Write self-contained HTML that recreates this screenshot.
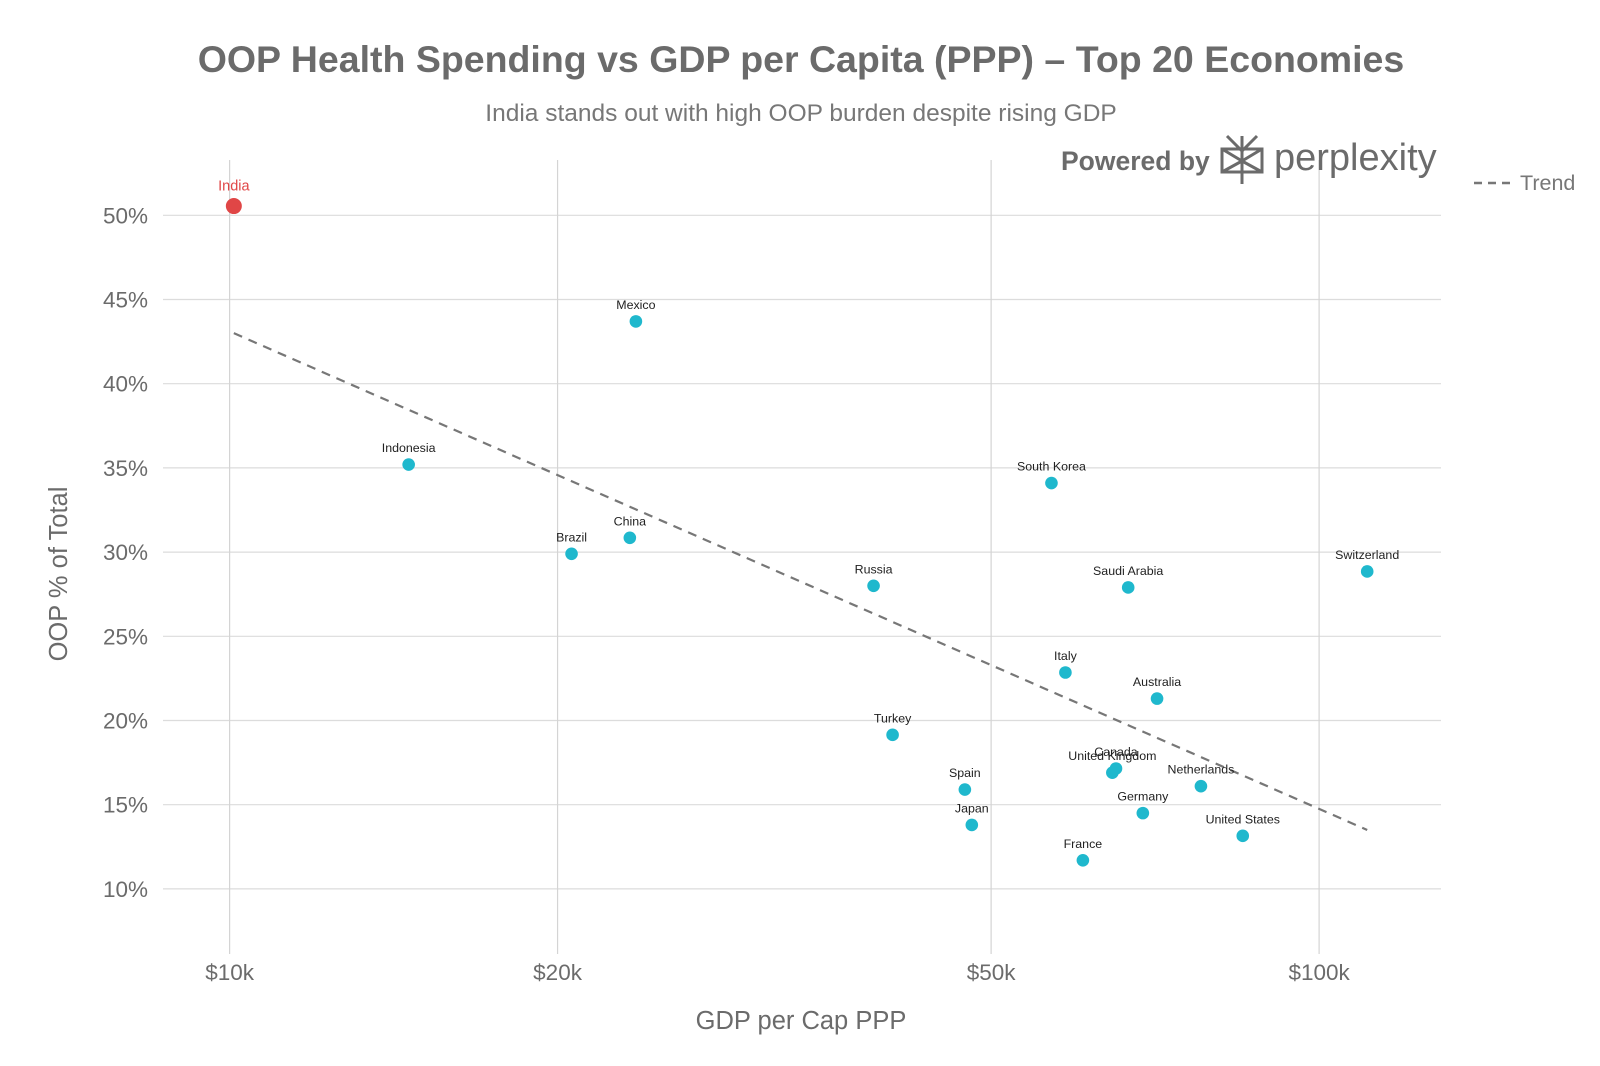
<!DOCTYPE html>
<html><head><meta charset="utf-8"><style>
html,body{margin:0;padding:0;background:#fff;}
svg{display:block;font-family:"Liberation Sans",sans-serif;}
</style></head><body>
<svg id="chart" width="1600" height="1066" viewBox="0 0 1600 1066">
<text x="801" y="72" text-anchor="middle" font-size="37.5" font-weight="bold" fill="#6b6b6b">OOP Health Spending vs GDP per Capita (PPP) – Top 20 Economies</text>
<text x="801" y="121" text-anchor="middle" font-size="24.5" fill="#777">India stands out with high OOP burden despite rising GDP</text>
<g id="grid"></g>
<g id="trend"></g>
<g id="points"></g>
<g id="ticks"></g>
<text x="801" y="1029" text-anchor="middle" font-size="25.5" fill="#6b6b6b">GDP per Cap PPP</text>
<text transform="translate(67,574) rotate(-90)" text-anchor="middle" font-size="25.5" fill="#6b6b6b">OOP % of Total</text>
<g>
<text x="1061" y="170" font-size="26.5" font-weight="bold" fill="#6b6b6b">Powered by</text>
<g stroke="#6b6b6b" stroke-width="3" fill="none">
<path d="M1242 136 V184 M1222 149 H1262 V172 H1222 Z M1222 149 L1242 161 L1262 149 M1222 172 L1242 161 L1262 172 M1227 136 L1242 151 L1257 136"/>
</g>
<text x="1274" y="170" font-size="38" fill="#6b6b6b">perplexity</text>
</g>
<g>
<line x1="1474" y1="183" x2="1510" y2="183" stroke="#777" stroke-width="2.5" stroke-dasharray="8,6"/>
<text x="1520" y="190" font-size="21.5" fill="#777">Trend</text>
</g>
</svg>
<script>
const countries=["India","Mexico","Indonesia","Brazil","China","Russia","Turkey","Spain","Japan","South Korea","Italy","France","United Kingdom","Canada","Saudi Arabia","Germany","Australia","Netherlands","United States","Switzerland"];
const gdp=[10090,23600,14600,20600,23300,39000,40600,47300,48000,56800,58500,60700,64600,65100,66800,68900,71000,77900,85100,110700];
const oop=[50.55,43.7,35.2,29.9,30.85,28.0,19.15,15.9,13.8,34.1,22.85,11.7,16.9,17.15,27.9,14.5,21.3,16.1,13.15,28.85];
const trendX=[10090,110700];
const trendY=[43.0,13.5];
const xTicks=[10000,20000,50000,100000];
const xTickLabels=["$10k","$20k","$50k","$100k"];
const yTicks=[10,15,20,25,30,35,40,45,50];
const yTickLabels=["10%","15%","20%","25%","30%","35%","40%","45%","50%"];
const NS="http://www.w3.org/2000/svg";
const X=v=>229.6+(Math.log10(v)-4)*1089.5;
const Y=v=>215.3-(v-50)*16.84;
function mk(tag,attrs,parent,txt){const e=document.createElementNS(NS,tag);for(const k in attrs)e.setAttribute(k,attrs[k]);if(txt!==undefined)e.textContent=txt;document.getElementById(parent).appendChild(e);return e;}
yTicks.forEach((t,i)=>{
 const l=mk("line",{x1:163,x2:1441,y1:Y(t),y2:Y(t),stroke:"#dcdcdc","stroke-width":1.2},"grid");
 
 
 const tx=mk("text",{x:148,y:Y(t)+8,"text-anchor":"end","font-size":22.5,fill:"#6b6b6b"},"ticks",yTickLabels[i]);
 
 
});
xTicks.forEach((t,i)=>{
 const l=mk("line",{x1:X(t),x2:X(t),y1:160,y2:954,stroke:"#d4d4d4","stroke-width":1.2},"grid");
 
 
 const tx=mk("text",{x:X(t),y:980,"text-anchor":"middle","font-size":22.5,fill:"#6b6b6b"},"ticks",xTickLabels[i]);
 
 
});
const tl=mk("line",{x1:X(trendX[0]),y1:Y(trendY[0]),x2:X(trendX[1]),y2:Y(trendY[1]),stroke:"#777","stroke-width":2.2,"stroke-dasharray":"9,7"},"trend");


countries.forEach((c,i)=>{
 const india=c==="India";
 const cx=X(gdp[i]),cy=Y(oop[i]);
 const p=mk("circle",{cx:cx,cy:cy,r:india?8:6.3,fill:india?"#e04646":"#1fb8cd"},"points");
 
 
 const t=mk("text",{x:cx,y:cy-(india?15.5:12.5),"text-anchor":"middle","font-size":india?14.5:12.4,fill:india?"#e04646":"#222"},"points",c);
 
 
});
</script>
</body></html>
